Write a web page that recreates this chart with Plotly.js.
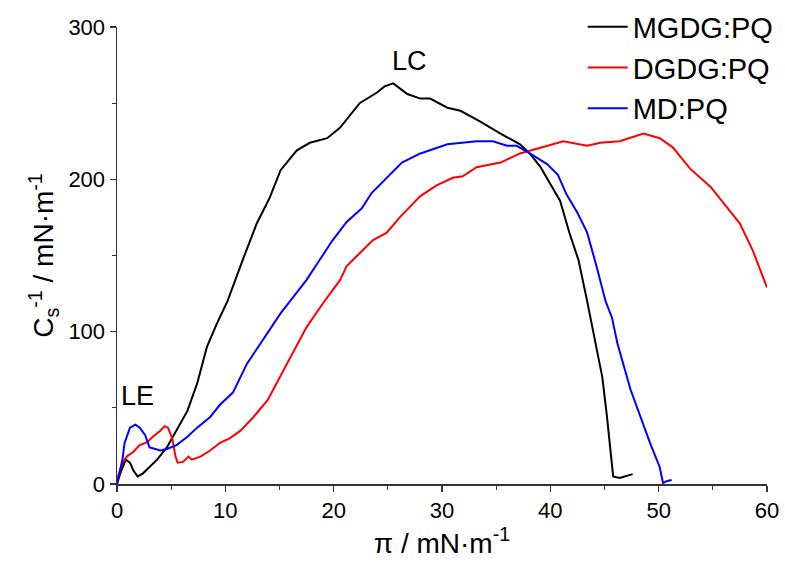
<!DOCTYPE html>
<html>
<head>
<meta charset="utf-8">
<script src="https://cdn.plot.ly/plotly-3.0.1.min.js"></script>
<style>html,body{margin:0;padding:0;background:#fff;}#chart{width:785px;height:564px;}</style>
</head>
<body>
<div id="chart"></div>
<script>
// MGDG:PQ (black)
const mgdgX = [0, 0.3, 0.8, 1.2, 1.5, 1.9, 2.4, 3, 3.7, 4.6, 5.5, 6.5, 7.4, 8.3, 9.2, 10.2, 11.6, 12.9, 14.1, 15.1, 16.6, 17.8, 19.4, 20.6, 22.4, 24, 24.7, 25.5, 26.8, 28, 28.9, 30.5, 31.7, 33.5, 35.4, 37.2, 38.1, 39.1, 40, 40.9, 41.8, 42.6, 43.4, 44.0, 44.8, 45.2, 45.8, 46.4, 47, 47.6];
const mgdgY = [0, 7, 16, 14, 9, 5, 7, 11, 16, 24, 35, 48, 66, 90, 105, 120, 147, 171, 188, 206, 219, 224, 227, 234, 250, 257, 261, 263, 256, 253, 253, 247, 245, 238, 230, 223, 217, 208, 197, 186, 164, 147, 120, 99, 70, 46, 5, 4, 5, 6.5];
// DGDG:PQ (red)
const dgdgX = [0, 0.5, 0.9, 1.5, 2.1, 2.8, 3.3, 4, 4.4, 4.7, 5.1, 5.4, 5.6, 6.1, 6.6, 6.9, 7.7, 8.6, 9.5, 10.4, 11.4, 12.6, 13.9, 15.7, 17.5, 19, 20.6, 21.2, 23.6, 24.9, 26.1, 28, 29.5, 31, 31.9, 33.2, 35.4, 37.2, 39.1, 41.2, 43.4, 44.6, 46.4, 48.6, 50.1, 51.3, 52.9, 54.8, 56.6, 57.5, 58.7, 60];
const dgdgY = [3, 14, 18, 21, 25.5, 27.5, 31, 35, 38, 37, 30, 18, 14, 14.5, 18, 16, 18, 22, 27, 30, 35, 44, 55, 79, 103, 118.5, 134, 143, 160, 165, 175, 189, 196, 201, 202, 208, 211, 217, 221, 225, 222, 224, 225, 230, 227, 221, 207, 195, 179, 171, 153, 129];
// MD:PQ (blue)
const mdX = [0, 0.1, 0.5, 0.7, 1.2, 1.7, 2.1, 2.6, 3, 3.3, 4, 4.6, 5.5, 6.5, 7.4, 8.6, 9.5, 10.7, 12, 15.1, 17.5, 18.7, 19.9, 21.2, 22.6, 23.5, 24.9, 26.3, 28, 30.5, 33.2, 34.7, 36, 36.9, 38.1, 39.7, 40.7, 41.5, 42.5, 43.4, 44.3, 45.1, 45.7, 46.2, 47.4, 48.3, 49.2, 50.1, 50.4, 50.8, 51.2];
const mdY = [0, 3, 16, 27, 37, 39, 37, 32, 24, 23.5, 22, 23, 25.5, 31, 37, 44, 52, 60, 79, 112, 134, 147, 160, 172, 181, 191, 201, 211, 217, 223, 225, 225, 222, 222, 217, 210, 203, 190, 178, 165, 142, 120, 109, 92, 62, 44, 27, 11, 0.7, 2, 2.6];

const seriesNames = ['MGDG:PQ', 'DGDG:PQ', 'MD:PQ'];
const xTicks = [0, 10, 20, 30, 40, 50, 60];
const yTicks = [0, 100, 200, 300];

const font = 'Liberation Sans, Arial, sans-serif';
const traces = [
  {x: mgdgX, y: mgdgY, name: seriesNames[0], mode: 'lines', line: {color: '#000000', width: 2}},
  {x: dgdgX, y: dgdgY, name: seriesNames[1], mode: 'lines', line: {color: '#ff0000', width: 2}},
  {x: mdX, y: mdY, name: seriesNames[2], mode: 'lines', line: {color: '#0000ff', width: 2}}
];
const axisCommon = {
  showgrid: false, zeroline: false, showline: true, linecolor: '#333333', linewidth: 1.5,
  ticks: 'outside', ticklen: 6, tickwidth: 1.5, tickcolor: '#333333',
  tickfont: {family: font, size: 22, color: '#000'},
  minor: {ticks: 'outside', ticklen: 4, tickwidth: 1.2, tickcolor: '#333333'}
};
const layout = {
  width: 785, height: 564,
  margin: {l: 117, r: 18, t: 27, b: 80, autoexpand: false},
  paper_bgcolor: '#fff', plot_bgcolor: '#fff',
  showlegend: true,
  legend: {x: 1.018, xanchor: 'right', y: 1.056, yanchor: 'top', font: {family: font, size: 29, color: '#000'}, bgcolor: 'rgba(0,0,0,0)', tracegroupgap: 0, itemwidth: 40},
  xaxis: Object.assign({}, axisCommon, {
    range: [0, 60], tickvals: xTicks, ticktext: xTicks.map(String),
    minor: Object.assign({}, axisCommon.minor, {dtick: 5, tick0: 0}),
    title: {text: 'π / mN·m<sup>-1</sup>', font: {family: font, size: 28, color: '#000'}, standoff: 6}
  }),
  yaxis: Object.assign({}, axisCommon, {
    range: [0, 300], tickvals: yTicks, ticktext: yTicks.map(String),
    minor: Object.assign({}, axisCommon.minor, {dtick: 50, tick0: 0}),
    title: {text: 'C<sub>s</sub><sup>-1</sup> / mN·m<sup>-1</sup>', font: {family: font, size: 28, color: '#000'}, standoff: 6}
  }),
  annotations: [
    {x: 27, y: 278, xref: 'x', yref: 'y', text: 'LC', showarrow: false, font: {family: font, size: 27, color: '#000'}},
    {x: 1.9, y: 58, xref: 'x', yref: 'y', text: 'LE', showarrow: false, font: {family: font, size: 27, color: '#000'}}
  ]
};
Plotly.newPlot('chart', traces, layout, {displayModeBar: false, staticPlot: true});
</script>
</body>
</html>
